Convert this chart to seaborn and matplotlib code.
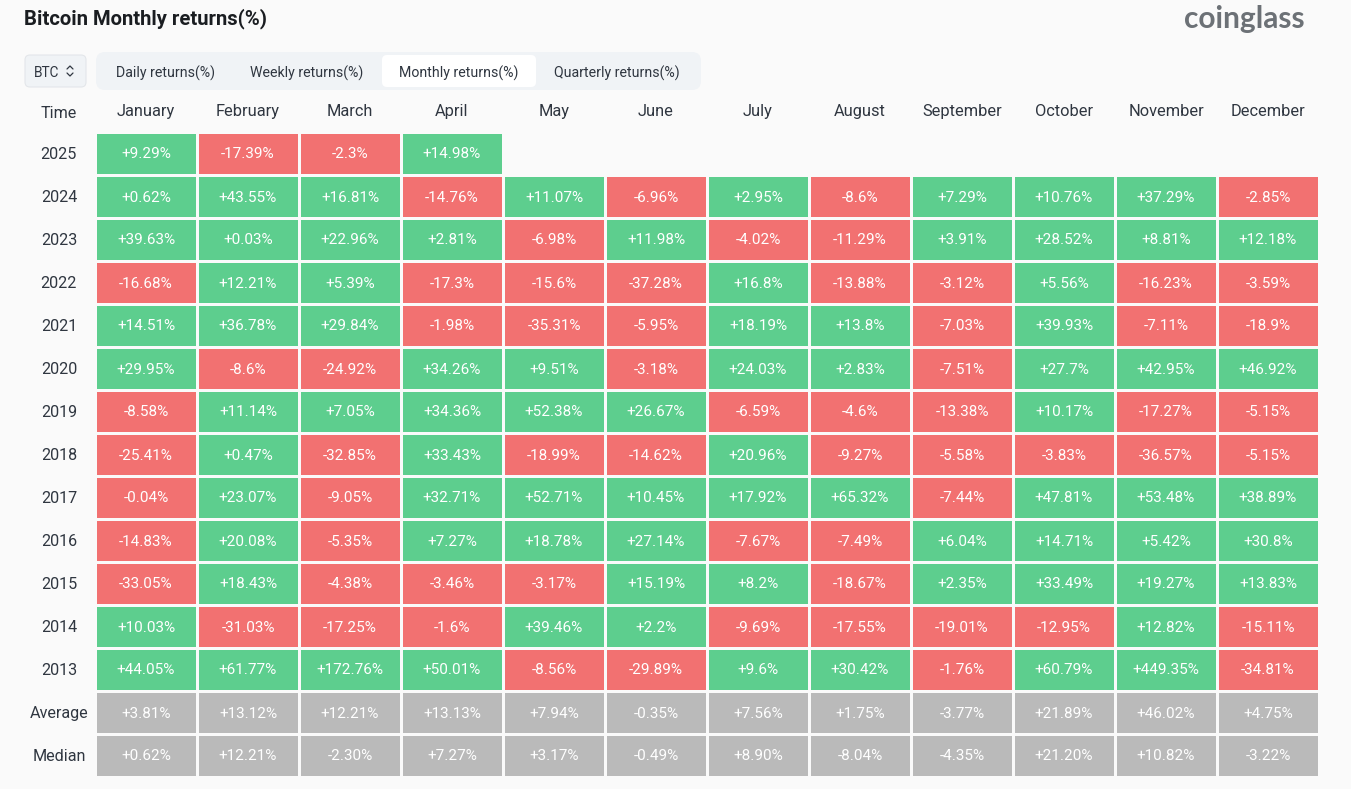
import numpy as np
import matplotlib
matplotlib.use("Agg")
import matplotlib.pyplot as plt
from matplotlib.colors import ListedColormap
from matplotlib.patches import FancyBboxPatch
import seaborn as sns

months = ["January", "February", "March", "April", "May", "June", "July",
          "August", "September", "October", "November", "December"]
tabs = ["Daily returns(%)", "Weekly returns(%)", "Monthly returns(%)", "Quarterly returns(%)"]
row_names = ["2025", "2024", "2023", "2022", "2021", "2020", "2019", "2018",
             "2017", "2016", "2015", "2014", "2013", "Average", "Median"]

# returns as printed, blank = month has not happened yet
r2025 = ["+9.29%", "-17.39%", "-2.3%", "+14.98%", "", "", "", "", "", "", "", ""]
r2024 = ["+0.62%", "+43.55%", "+16.81%", "-14.76%", "+11.07%", "-6.96%", "+2.95%", "-8.6%", "+7.29%", "+10.76%", "+37.29%", "-2.85%"]
r2023 = ["+39.63%", "+0.03%", "+22.96%", "+2.81%", "-6.98%", "+11.98%", "-4.02%", "-11.29%", "+3.91%", "+28.52%", "+8.81%", "+12.18%"]
r2022 = ["-16.68%", "+12.21%", "+5.39%", "-17.3%", "-15.6%", "-37.28%", "+16.8%", "-13.88%", "-3.12%", "+5.56%", "-16.23%", "-3.59%"]
r2021 = ["+14.51%", "+36.78%", "+29.84%", "-1.98%", "-35.31%", "-5.95%", "+18.19%", "+13.8%", "-7.03%", "+39.93%", "-7.11%", "-18.9%"]
r2020 = ["+29.95%", "-8.6%", "-24.92%", "+34.26%", "+9.51%", "-3.18%", "+24.03%", "+2.83%", "-7.51%", "+27.7%", "+42.95%", "+46.92%"]
r2019 = ["-8.58%", "+11.14%", "+7.05%", "+34.36%", "+52.38%", "+26.67%", "-6.59%", "-4.6%", "-13.38%", "+10.17%", "-17.27%", "-5.15%"]
r2018 = ["-25.41%", "+0.47%", "-32.85%", "+33.43%", "-18.99%", "-14.62%", "+20.96%", "-9.27%", "-5.58%", "-3.83%", "-36.57%", "-5.15%"]
r2017 = ["-0.04%", "+23.07%", "-9.05%", "+32.71%", "+52.71%", "+10.45%", "+17.92%", "+65.32%", "-7.44%", "+47.81%", "+53.48%", "+38.89%"]
r2016 = ["-14.83%", "+20.08%", "-5.35%", "+7.27%", "+18.78%", "+27.14%", "-7.67%", "-7.49%", "+6.04%", "+14.71%", "+5.42%", "+30.8%"]
r2015 = ["-33.05%", "+18.43%", "-4.38%", "-3.46%", "-3.17%", "+15.19%", "+8.2%", "-18.67%", "+2.35%", "+33.49%", "+19.27%", "+13.83%"]
r2014 = ["+10.03%", "-31.03%", "-17.25%", "-1.6%", "+39.46%", "+2.2%", "-9.69%", "-17.55%", "-19.01%", "-12.95%", "+12.82%", "-15.11%"]
r2013 = ["+44.05%", "+61.77%", "+172.76%", "+50.01%", "-8.56%", "-29.89%", "+9.6%", "+30.42%", "-1.76%", "+60.79%", "+449.35%", "-34.81%"]
average = ["+3.81%", "+13.12%", "+12.21%", "+13.13%", "+7.94%", "-0.35%", "+7.56%", "+1.75%", "-3.77%", "+21.89%", "+46.02%", "+4.75%"]
median = ["+0.62%", "+12.21%", "-2.30%", "+7.27%", "+3.17%", "-0.49%", "+8.90%", "-8.04%", "-4.35%", "+21.20%", "+10.82%", "-3.22%"]

labels = np.array([r2025, r2024, r2023, r2022, r2021, r2020, r2019, r2018, r2017,
                   r2016, r2015, r2014, r2013, average, median])

# colour class: +1 green, -1 red, 0 grey for the two summary rows
colors = np.full(labels.shape, np.nan)
for i in range(labels.shape[0]):
    for j in range(labels.shape[1]):
        if labels[i, j] != "":
            colors[i, j] = 1 if labels[i, j][0] == "+" else -1
colors[-2:] = 0

W, H = 1351, 789
BG = "#fafafa"
FONT = "Roboto"
DARK = "#2f3640"

sns.set_theme(style="white", rc={"figure.facecolor": BG, "axes.facecolor": BG})
plt.rcParams["font.family"] = [FONT, "DejaVu Sans"]

fig = plt.figure(figsize=(W / 100, H / 100), dpi=100)

# overlay in pixel coords for the page chrome
ui = fig.add_axes([0, 0, 1, 1])
ui.set_xlim(0, W)
ui.set_ylim(H, 0)
ui.axis("off")

ui.text(24, 19, "Bitcoin Monthly returns(%)", fontsize=14.6, fontweight="bold",
        color="#1a1d21", va="center", ha="left")
ui.text(1305, 19, "coinglass", fontsize=21.5, fontweight="bold", color="#6c7176",
        va="center", ha="right", family="Lato")


def box(x0, y0, x1, y1, r, fc, ec="none"):
    ui.add_patch(FancyBboxPatch((x0 + r, y0 + r), x1 - x0 - 2 * r, y1 - y0 - 2 * r,
                                boxstyle=f"round,pad={r},rounding_size={r}",
                                fc=fc, ec=ec, lw=0.8))


box(25, 55, 86, 87, 5, "#f0f3f6", "#e3e6ea")
ui.text(34, 71.5, "BTC", fontsize=9.8, color=DARK, va="center_baseline", ha="left")
# up/down chevrons of the select box
ui.plot([67, 70, 73], [69, 66, 69], color=DARK, lw=0.9)
ui.plot([67, 70, 73], [73, 76, 73], color=DARK, lw=0.9)

box(96, 52, 701, 90, 9, "#f0f3f6")
box(382, 55, 536, 87, 5, "white")
for name, cx in zip(tabs, [166, 307, 459, 617]):
    ui.text(cx, 71.5, name, fontsize=10.2, color=DARK, va="center_baseline", ha="center")

ui.text(59, 111.5, "Time", fontsize=11.6, color=DARK, va="center_baseline", ha="center")

# table
ax = fig.add_axes([95 / W, 1 - 776.5 / H, 1224 / W, 645 / H])
cmap = ListedColormap(["#f27171", "#bababa", "#5dce8e"])
sns.heatmap(colors, ax=ax, cmap=cmap, vmin=-1, vmax=1, cbar=False,
            annot=labels, fmt="",
            annot_kws={"color": "white", "fontsize": 11, "va": "center_baseline"},
            linewidths=1.8, linecolor=BG,
            xticklabels=months, yticklabels=row_names)
ax.xaxis.tick_top()
ax.tick_params(axis="both", length=0)
ax.tick_params(axis="x", pad=9, labelsize=11.8, labelcolor=DARK, labelrotation=0)
ax.tick_params(axis="y", pad=26, labelsize=11.6, labelcolor=DARK, labelrotation=0)
for t in ax.get_yticklabels():
    t.set_ha("center")
    t.set_va("center_baseline")

fig.savefig("out.png", dpi=100, facecolor=BG)
